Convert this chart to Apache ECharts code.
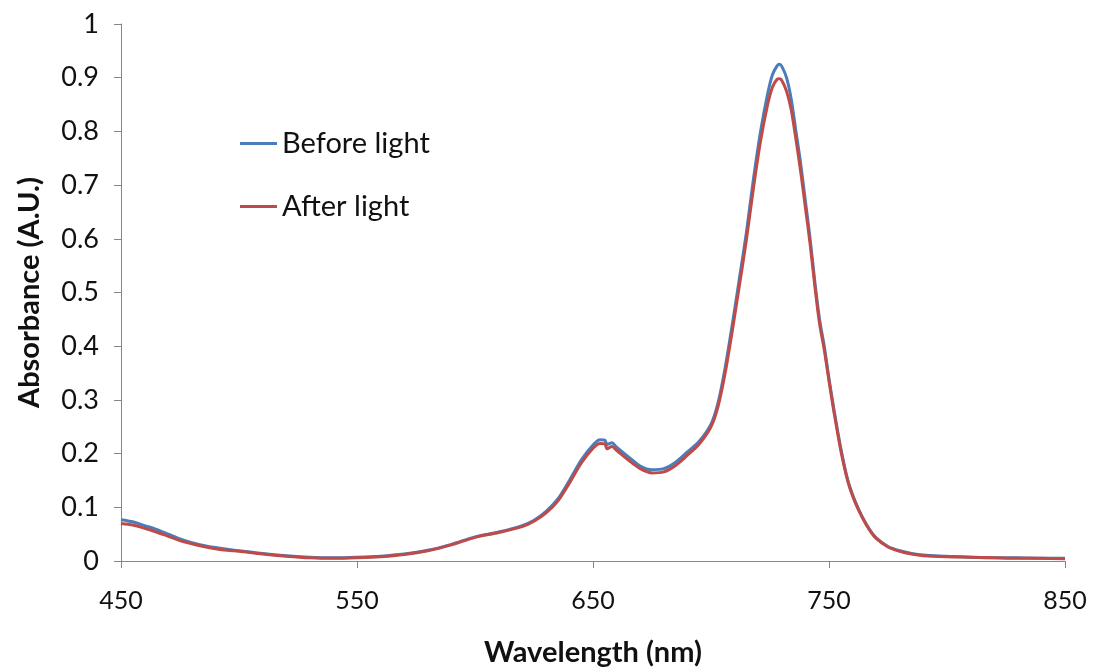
<!DOCTYPE html>
<html>
<head>
<meta charset="utf-8">
<script src="https://cdn.jsdelivr.net/npm/echarts@6/dist/echarts.min.js"></script>
<style>
  html, body { margin: 0; padding: 0; background: #fff; }
  #chart { width: 1095px; height: 672px; }
</style>
</head>
<body>
<div id="chart"></div>
<script>
// Wavelength sample points (nm)
const wavelengths = [
  450, 455, 460, 465, 470, 475, 480, 485, 490, 495, 500, 510, 520, 530, 540, 550,
  560, 570, 580, 590, 600, 610, 620, 625, 630, 635, 640, 645, 650, 653, 655, 656,
  658, 660, 665, 670, 675, 680, 685, 690, 695, 700, 703, 706, 709, 712, 715, 718,
  721, 724, 726, 728, 729, 730, 732, 734, 736, 738, 740, 742, 744, 746, 748, 750,
  752, 755, 758, 761, 764, 767, 770, 775, 780, 785, 790, 800, 810, 820, 830, 840, 850
];

// Absorbance before illumination (A.U.)
const beforeLight = [
  0.077, 0.073, 0.066, 0.059, 0.050, 0.041, 0.034, 0.029, 0.025, 0.022, 0.019, 0.014, 0.010, 0.007, 0.006, 0.007,
  0.009, 0.013, 0.020, 0.031, 0.045, 0.054, 0.066, 0.076, 0.092, 0.115, 0.150, 0.188, 0.216, 0.226, 0.225, 0.217,
  0.220, 0.212, 0.194, 0.177, 0.170, 0.172, 0.184, 0.203, 0.223, 0.255, 0.295, 0.360, 0.440, 0.525, 0.612, 0.712,
  0.800, 0.870, 0.905, 0.922, 0.925, 0.921, 0.900, 0.860, 0.800, 0.740, 0.670, 0.600, 0.520, 0.450, 0.400, 0.340,
  0.285, 0.210, 0.150, 0.112, 0.083, 0.060, 0.043, 0.027, 0.019, 0.014, 0.011, 0.009, 0.007, 0.006, 0.006, 0.005, 0.005
];

// Absorbance after illumination (A.U.)
const afterLight = [
  0.070, 0.067, 0.061, 0.054, 0.046, 0.038, 0.032, 0.027, 0.023, 0.020, 0.018, 0.013, 0.009, 0.006, 0.005, 0.006,
  0.008, 0.012, 0.019, 0.030, 0.044, 0.053, 0.064, 0.074, 0.089, 0.111, 0.145, 0.182, 0.210, 0.219, 0.218, 0.209,
  0.213, 0.206, 0.188, 0.172, 0.164, 0.166, 0.178, 0.197, 0.218, 0.250, 0.288, 0.350, 0.428, 0.512, 0.598, 0.695,
  0.782, 0.850, 0.882, 0.897, 0.898, 0.895, 0.875, 0.840, 0.785, 0.725, 0.658, 0.590, 0.512, 0.442, 0.393, 0.335,
  0.280, 0.206, 0.148, 0.110, 0.082, 0.059, 0.042, 0.026, 0.018, 0.013, 0.010, 0.008, 0.007, 0.006, 0.005, 0.005, 0.004
];

const seriesNames = ['Before light', 'After light'];
const seriesColors = ['#4a7ebb', '#be4b48'];

const pair = (xs, ys) => xs.map((x, i) => [x, ys[i]]);

const FONT = 'Lato, "Open Sans", sans-serif';
const axisGray = '#868686';
const textColor = '#111111';

const chart = echarts.init(document.getElementById('chart'), null, { renderer: 'canvas' });

chart.setOption({
  animation: false,
  backgroundColor: '#ffffff',
  grid: { left: 121, right: 30, top: 24, bottom: 106, containLabel: false },
  legend: {
    orient: 'vertical',
    left: 235,
    top: 124,
    icon: 'rect',
    itemWidth: 37,
    itemHeight: 3,
    itemGap: 34,
    data: seriesNames,
    textStyle: { fontFamily: FONT, fontSize: 29, color: textColor }
  },
  xAxis: {
    type: 'value',
    min: 450,
    max: 850,
    interval: 100,
    name: 'Wavelength (nm)',
    nameLocation: 'middle',
    nameGap: 77,
    nameTextStyle: { fontFamily: FONT, fontSize: 29, fontWeight: 'bold', color: textColor },
    axisLine: { show: true, lineStyle: { color: axisGray, width: 1 } },
    axisTick: { show: true, inside: false, length: 7, lineStyle: { color: axisGray } },
    axisLabel: { fontFamily: FONT, fontSize: 25, color: textColor, margin: 27 },
    splitLine: { show: false }
  },
  yAxis: {
    type: 'value',
    min: 0,
    max: 1,
    interval: 0.1,
    name: 'Absorbance (A.U.)',
    nameLocation: 'middle',
    nameGap: 77,
    nameTextStyle: { fontFamily: FONT, fontSize: 29, fontWeight: 'bold', color: textColor },
    axisLine: { show: true, lineStyle: { color: axisGray, width: 1 } },
    axisTick: { show: true, inside: false, length: 7, lineStyle: { color: axisGray } },
    axisLabel: {
      fontFamily: FONT, fontSize: 27, color: textColor, margin: 22,
      formatter: v => String(Math.round(v * 10) / 10)
    },
    splitLine: { show: false }
  },
  series: [
    {
      name: seriesNames[0],
      type: 'line',
      data: pair(wavelengths, beforeLight),
      symbol: 'none',
      smooth: 0.3,
      color: seriesColors[0],
      lineStyle: { width: 3, color: seriesColors[0] },
      z: 2
    },
    {
      name: seriesNames[1],
      type: 'line',
      data: pair(wavelengths, afterLight),
      symbol: 'none',
      smooth: 0.3,
      color: seriesColors[1],
      lineStyle: { width: 3, color: seriesColors[1] },
      z: 3
    }
  ]
});
</script>
</body>
</html>
